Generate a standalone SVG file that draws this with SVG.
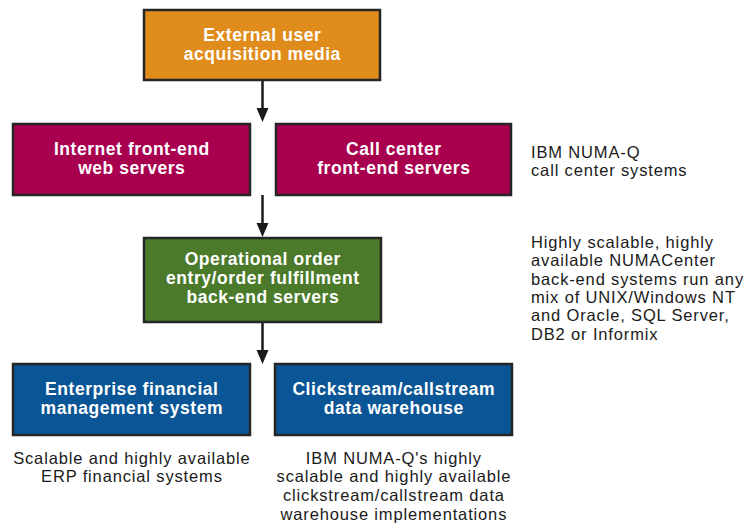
<svg xmlns="http://www.w3.org/2000/svg" width="751" height="525" viewBox="0 0 751 525">
<defs>
<style>
.box{stroke:#262626;stroke-width:2.5}
.bt{font-family:"Liberation Sans",Arial,sans-serif;font-weight:bold;font-size:17.5px;letter-spacing:0.55px;fill:#ffffff;text-anchor:middle}
.nt{font-family:"Liberation Sans",Arial,sans-serif;font-size:16.5px;letter-spacing:0.85px;fill:#1a1a1a}
.c{text-anchor:middle}
.conn{stroke:#1a1a1a;stroke-width:2.5;fill:none}
.head{fill:#1a1a1a}
</style>
</defs>
<rect width="751" height="525" fill="#ffffff"/>
<g id="connectors">
<line class="conn" x1="262.5" y1="80" x2="262.5" y2="110"/>
<path class="head" d="M256.5,108 L268.5,108 L262.5,122 Z"/>
<line class="conn" x1="262.5" y1="195" x2="262.5" y2="225"/>
<path class="head" d="M256.5,223 L268.5,223 L262.5,237 Z"/>
<line class="conn" x1="262.5" y1="322" x2="262.5" y2="352"/>
<path class="head" d="M256.5,350 L268.5,350 L262.5,364 Z"/>
</g>
<g id="external">
<rect class="box" x="144" y="10" width="236" height="70" fill="#E08C1C"/>
<text class="bt" x="262.3" y="41">External user</text>
<text class="bt" x="262.3" y="59.5">acquisition media</text>
</g>
<g id="internet">
<rect class="box" x="13" y="124" width="237" height="71" fill="#A8004F"/>
<text class="bt" x="131.8" y="155">Internet front-end</text>
<text class="bt" x="131.8" y="174">web servers</text>
</g>
<g id="callcenter">
<rect class="box" x="276" y="124" width="235" height="71" fill="#A8004F"/>
<text class="bt" x="393.8" y="155">Call center</text>
<text class="bt" x="393.8" y="174">front-end servers</text>
</g>
<g id="operational">
<rect class="box" x="144" y="238" width="237" height="84" fill="#4A7A2A"/>
<text class="bt" x="262.8" y="264.5">Operational order</text>
<text class="bt" x="262.8" y="283.5">entry/order fulfillment</text>
<text class="bt" x="262.8" y="302.5">back-end servers</text>
</g>
<g id="enterprise">
<rect class="box" x="13" y="364" width="237" height="71" fill="#0A5596"/>
<text class="bt" x="131.8" y="395">Enterprise financial</text>
<text class="bt" x="131.8" y="414">management system</text>
</g>
<g id="clickstream">
<rect class="box" x="275" y="364" width="237" height="71" fill="#0A5596"/>
<text class="bt" x="393.8" y="395">Clickstream/callstream</text>
<text class="bt" x="393.8" y="414">data warehouse</text>
</g>
<g id="note-callcenter">
<text class="nt" x="531" y="157.5">IBM NUMA-Q</text>
<text class="nt" x="531" y="175.7">call center systems</text>
</g>
<g id="note-backend">
<text class="nt" x="531" y="248">Highly scalable, highly</text>
<text class="nt" x="531" y="266.3">available NUMACenter</text>
<text class="nt" x="531" y="284.6">back-end systems run any</text>
<text class="nt" x="531" y="302.9">mix of UNIX/Windows NT</text>
<text class="nt" x="531" y="321.2">and Oracle, SQL Server,</text>
<text class="nt" x="531" y="339.5">DB2 or Informix</text>
</g>
<g id="note-erp">
<text class="nt c" x="131.9" y="463.5">Scalable and highly available</text>
<text class="nt c" x="131.9" y="482">ERP financial systems</text>
</g>
<g id="note-dw">
<text class="nt c" x="393.9" y="463.5">IBM NUMA-Q's highly</text>
<text class="nt c" x="393.9" y="482.3">scalable and highly available</text>
<text class="nt c" x="393.9" y="501.1">clickstream/callstream data</text>
<text class="nt c" x="393.9" y="519.9">warehouse implementations</text>
</g>
</svg>
